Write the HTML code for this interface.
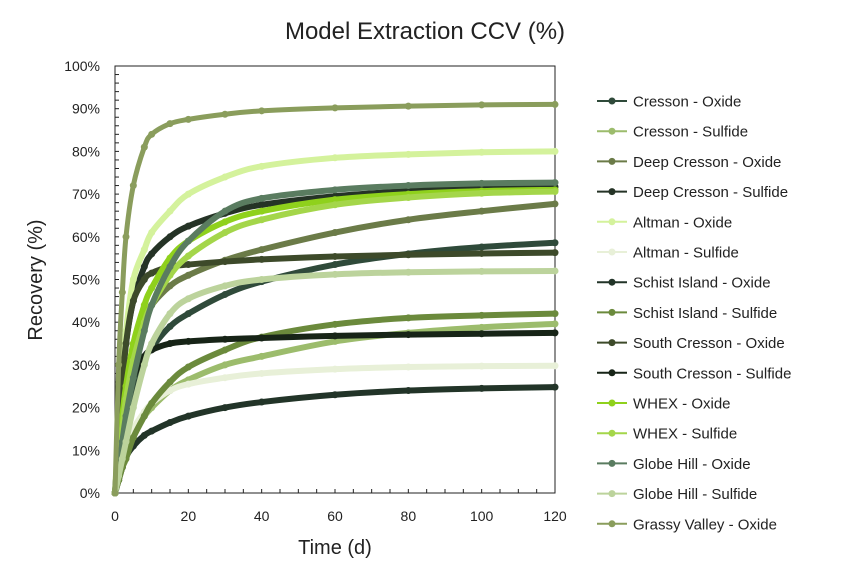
<!DOCTYPE html>
<html><head><meta charset="utf-8"><style>
body{margin:0;background:#fff;}
svg{display:block;font-family:"Liberation Sans",Arial,sans-serif;}
</style></head><body>
<svg id="chart" width="851" height="578" viewBox="0 0 851 578">
<text x="425" y="39" font-size="24" text-anchor="middle" fill="#222">Model Extraction CCV (%)</text>
<text x="42" y="280" font-size="20" text-anchor="middle" fill="#222" transform="rotate(-90 42 280)">Recovery (%)</text>
<text x="335" y="554" font-size="20" text-anchor="middle" fill="#222">Time (d)</text>
<g id="axes"></g><g id="series"></g><g id="legend"></g>
</svg>
<script>
const days = [0,1,2,3,5,8,10,15,20,30,40,60,80,100,120];
const names = ["Cresson - Oxide","Cresson - Sulfide","Deep Cresson - Oxide","Deep Cresson - Sulfide","Altman - Oxide","Altman - Sulfide","Schist Island - Oxide","Schist Island - Sulfide","South Cresson - Oxide","South Cresson - Sulfide","WHEX - Oxide","WHEX - Sulfide","Globe Hill - Oxide","Globe Hill - Sulfide","Grassy Valley - Oxide"];
const colors = ["#2f4a3a","#9cbc6c","#6b7b48","#253326","#d4f29c","#e8f0d8","#223428","#6b8a3c","#3d4a2a","#172417","#8fd11c","#a4d64a","#5a7c60","#bcd39c","#8a9d5c"];
const cressonOx = [0,6,11,16,24,31,34,39,42,46.5,49.5,53.5,56,57.6,58.6];
const cressonSul = [0,3,6,9,14,18,20,24,26.5,30,32,35.5,37.5,38.8,39.6];
const deepOx = [0,8,16,22,32,40,44,48.5,51,54.5,57,61,64,66,67.7];
const deepSul = [0,12,25,35,45,53,56,60,62.5,65.5,67.5,69.5,70.7,71.3,71.7];
const altmanOx = [0,15,28,38,50,57,61,66,70,74,76.5,78.5,79.3,79.8,80];
const altmanSul = [0,3,7,10,15,19,21,24,25.5,27,28,29,29.5,29.7,29.8];
const schistOx = [0,3,6,8.5,11,13.5,14.5,16.5,18,20,21.3,23,24,24.5,24.8];
const schistSul = [0,3,6,8,13,18,21,26,29.5,33.5,36.5,39.5,41,41.6,42];
const southOx = [0,12,25,35,45,50,51.5,53,53.5,54.2,54.7,55.4,55.8,56.1,56.3];
const southSul = [0,6,13,19,27,32,33.5,35,35.5,36,36.3,36.8,37.1,37.3,37.5];
const whexOx = [0,8,18,25,35,44,48,55,59,63.5,66,68.7,70,70.7,71];
const whexSul = [0,7,15,22,31,40,44,51,55.5,61,64,67.5,69.2,70.2,70.6];
const globeOx = [0,5,12,18,27,38,44,53,59,66,69,71,72,72.5,72.7];
const globeSul = [0,4,8,12,20,30,35,42,45.5,48.5,50,51.2,51.7,51.9,52];
const grassy = [0,30,47,60,72,81,84,86.5,87.5,88.7,89.5,90.2,90.6,90.9,91];
const seriesValues = [cressonOx,cressonSul,deepOx,deepSul,altmanOx,altmanSul,schistOx,schistSul,southOx,southSul,whexOx,whexSul,globeOx,globeSul,grassy];
const yTicks = [0,10,20,30,40,50,60,70,80,90,100];
const xTicks = [0,20,40,60,80,100,120];

const NS="http://www.w3.org/2000/svg";
const X0=115,X1=555,Y0=493,Y1=66;
const xs=d=>X0+d/120*(X1-X0);
const ys=v=>Y0-v/100*(Y0-Y1);
function mk(tag,attrs,parent){const e=document.createElementNS(NS,tag);for(const k in attrs)e.setAttribute(k,attrs[k]);parent.appendChild(e);return e;}
const axes=document.getElementById('axes');
const frame=mk('rect',{x:X0,y:Y1,width:X1-X0,height:Y0-Y1,fill:'none',stroke:'#222','stroke-width':1},axes);


for(let v=0;v<=100;v+=2){const t=mk('line',{x1:X0,x2:X0+4,y1:ys(v),y2:ys(v),stroke:'#222'},axes);

}
for(let d=0;d<=120;d+=5){const t=mk('line',{x1:xs(d),x2:xs(d),y1:Y0,y2:Y0-4,stroke:'#222'},axes);

}
yTicks.forEach(v=>{const t=mk('text',{x:100,y:ys(v)+5,'font-size':14,'text-anchor':'end',fill:'#222'},axes);t.textContent=v+'%';

});
xTicks.forEach(d=>{const t=mk('text',{x:xs(d),y:521,'font-size':14,'text-anchor':'middle',fill:'#222'},axes);t.textContent=d;

});
function pathFor(vals){const p=days.map((d,i)=>[xs(d),ys(vals[i])]);let s='M'+p[0][0]+','+p[0][1];
for(let i=0;i<p.length-1;i++){const a=p[Math.max(i-1,0)],b=p[i],c=p[i+1],e=p[Math.min(i+2,p.length-1)];
const c1=[b[0]+(c[0]-a[0])/6,b[1]+(c[1]-a[1])/6],c2=[c[0]-(e[0]-b[0])/6,c[1]-(e[1]-b[1])/6];
s+=' C'+c1.join(',')+' '+c2.join(',')+' '+c.join(',');}return s;}
const sg=document.getElementById('series');
seriesValues.forEach((vals,i)=>{const g=mk('g',{},sg);


mk('path',{d:pathFor(vals),fill:'none',stroke:colors[i],'stroke-width':i==14?5:6,'stroke-linecap':'round'},g);
days.forEach((d,j)=>{const c=mk('circle',{cx:xs(d),cy:ys(vals[j]),r:3.5,fill:colors[i]},g);

});});
const lg=document.getElementById('legend');
names.forEach((n,i)=>{const y=101+i*30.2;const g=mk('g',{},lg);


mk('line',{x1:597,x2:627,y1:y,y2:y,stroke:colors[i],'stroke-width':2},g);
mk('circle',{cx:612,cy:y,r:3.5,fill:colors[i]},g);
const t=mk('text',{x:633,y:y+5.5,'font-size':15,fill:'#222'},g);t.textContent=n;});
</script>
</body></html>
